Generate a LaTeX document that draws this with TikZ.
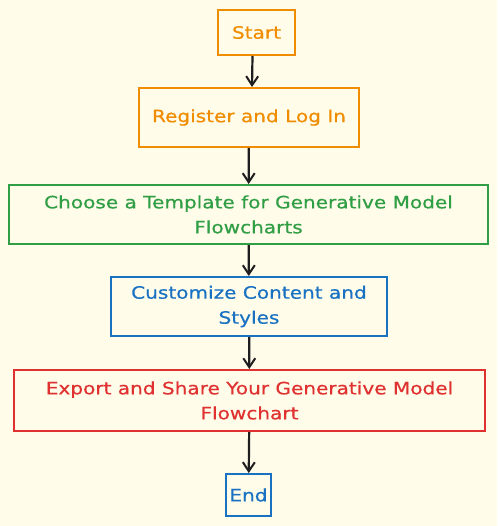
\documentclass[tikz,border=0pt]{standalone}
\usepackage{fontspec}
\setmainfont{DejaVu Sans}[FakeStretch=1.18,FakeBold=0.6]
\usetikzlibrary{arrows.meta}
\definecolor{bg}{HTML}{FFFCE9}
\definecolor{xorange}{HTML}{F08C00}
\definecolor{xgreen}{HTML}{2F9E44}
\definecolor{xblue}{HTML}{1971C2}
\definecolor{xred}{HTML}{E03131}
\definecolor{xink}{HTML}{1E1E1E}
\tikzset{
  box/.style={draw, rectangle, line width=2pt, align=center, inner sep=0pt,
    font=\fontsize{17}{25}\selectfont},
  conn/.style={draw=xink, line width=2.2pt, -{Straight Barb[length=9pt,width=12pt,line width=2pt]}}
}
\begin{document}
\begin{tikzpicture}[x=1pt,y=-1pt]
\fill[bg] (0,0) rectangle (497,526);
\useasboundingbox (0,0) rectangle (497,526);
\node[box, draw=xorange, text=xorange, minimum width=77pt, minimum height=45pt] (start) at (256.5,32.5) {Start};
\node[box, draw=xorange, text=xorange, minimum width=220pt, minimum height=59pt] (reg) at (249,117.5) {Register and Log In};
\node[box, draw=xgreen, text=xgreen, minimum width=479pt, minimum height=59pt] (choose) at (248.5,214.5) {Choose a Template for Generative Model\\Flowcharts};
\node[box, draw=xblue, text=xblue, minimum width=276pt, minimum height=59pt] (cust) at (249,306.5) {Customize Content and\\Styles};
\node[box, draw=xred, text=xred, minimum width=471pt, minimum height=61pt] (exp) at (249.5,400.5) {Export and Share Your Generative Model\\Flowchart};
\node[box, draw=xblue, text=xblue, minimum width=45pt, minimum height=42pt] (end) at (248.5,495) {End};
\draw[conn] ([xshift=-4pt]start.south) -- ([xshift=3pt]reg.north);
\draw[conn] (reg) -- (choose);
\draw[conn] (choose) -- (cust);
\draw[conn] (cust) -- (exp);
\draw[conn] (exp) -- (end);
\end{tikzpicture}
\end{document}
